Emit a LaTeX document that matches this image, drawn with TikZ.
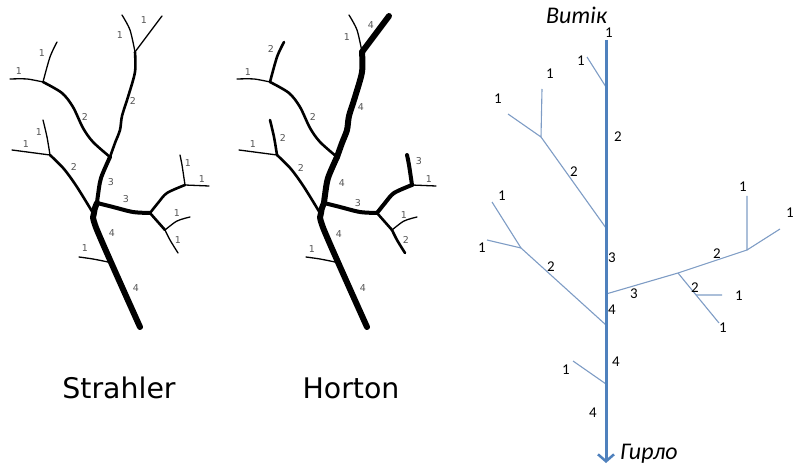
\documentclass[tikz,border=0pt]{standalone}
\usepackage{fontspec}
\setmainfont{DejaVu Sans}
\newfontfamily\carlito{Carlito}
\usetikzlibrary{arrows.meta,calc}
\definecolor{mainblue}{RGB}{79,129,189}
\definecolor{branchblue}{RGB}{126,156,197}
\definecolor{labgrey}{RGB}{85,85,85}
\tikzset{
  o1/.style={draw=black,line width=1.3bp},
  o2/.style={draw=black,line width=2.6bp},
  o3/.style={draw=black,line width=4bp},
  o4/.style={draw=black,line width=6bp},
  seg/.style={line cap=round,line join=round},
  lab/.style={text=labgrey,font=\fontsize{9.5}{10}\selectfont,inner sep=0pt},
  caption/.style={font=\fontsize{28.5}{30}\selectfont,inner sep=0pt,anchor=base},
  rlab/.style={font=\carlito\fontsize{15}{15}\selectfont,inner sep=0pt},
  rtitle/.style={font=\carlito\itshape\fontsize{24}{24}\selectfont,inner sep=0pt,anchor=base west},
  brline/.style={draw=branchblue,line width=1.1bp},
  mainline/.style={draw=mainblue,line width=3bp},
}
\newcommand{\rivertree}{%
  \draw[seg,sA] plot[smooth] coordinates {(122,15) (130,30) (135,52)};
  \draw[seg,sB] (162,16) -- (135,52);
  \draw[seg,sC] plot[smooth] coordinates {(135,52) (135,72) (128,97) (122,116) (120,130) (115,143) (110,157)};
  \draw[seg,sD] plot[smooth] coordinates {(57,42) (50,57) (43,82)};
  \draw[seg,sE] plot[smooth] coordinates {(10,79) (27,79) (43,82)};
  \draw[seg,sF] plot[smooth] coordinates {(43,82) (62,93) (73,107) (83,128) (93,142) (110,157)};
  \draw[seg,sG] plot[smooth] coordinates {(43,120) (47,137) (50,155)};
  \draw[seg,sH] (12,150) -- (50,155);
  \draw[seg,sI] plot[smooth] coordinates {(50,155) (64,169) (77,187) (93,213)};
  \draw[seg,sJ] plot[smooth] coordinates {(110,157) (101,178) (98,195) (97,203)};
  \draw[seg,sK] plot[smooth] coordinates {(97,203) (113,207) (133,212) (150,213)};
  \draw[seg,sL] plot[smooth] coordinates {(150,213) (158,203) (167,193) (185,185)};
  \draw[seg,sM] plot[smooth] coordinates {(180,155) (182,165) (185,185)};
  \draw[seg,sN] (185,185) -- (209,186);
  \draw[seg,sO] (150,213) -- (165,230);
  \draw[seg,sP] plot[smooth] coordinates {(165,230) (177,221) (190,217)};
  \draw[seg,sQ] plot[smooth] coordinates {(165,230) (170,240) (178,253)};
  \draw[seg,sR] plot[smooth] coordinates {(97,203) (94,213) (97,230) (140,327)};
  \draw[seg,sS] plot[smooth] coordinates {(79,257) (93,259) (108,262)};
}
\begin{document}
\begin{tikzpicture}[x=1bp,y=-1bp]
\useasboundingbox (0,0) rectangle (793,465);

% ---------------- Strahler ----------------
\begin{scope}
\tikzset{sA/.style=o1,sB/.style=o1,sC/.style=o2,sD/.style=o1,sE/.style=o1,
  sF/.style=o2,sG/.style=o1,sH/.style=o1,sI/.style=o2,sJ/.style=o3,sK/.style=o3,
  sL/.style=o2,sM/.style=o1,sN/.style=o1,sO/.style=o2,sP/.style=o1,sQ/.style=o1,
  sR/.style=o4,sS/.style=o1}
\rivertree
\foreach \t/\px/\py [count=\k] in {1/144/20,1/120/35,1/42/53,1/19/71,2/133/101,2/85/117,
  1/39/132,1/26/144,2/74/167,3/111/182,1/188/163,1/202/179,3/126/199,1/177/213,
  1/178/240,4/112/233,1/85/248,4/136/288}
  \node[lab] (sl\k) at (\px,\py) {\t};
\end{scope}
\node[caption] (strahler) at (119,398) {Strahler};

% ---------------- Horton ----------------
\begin{scope}[xshift=227bp]
\tikzset{sA/.style=o1,sB/.style=o4,sC/.style=o4,sD/.style=o2,sE/.style=o1,
  sF/.style=o2,sG/.style=o2,sH/.style=o1,sI/.style=o2,sJ/.style=o4,sK/.style=o3,
  sL/.style=o3,sM/.style=o3,sN/.style=o1,sO/.style=o2,sP/.style=o1,sQ/.style=o2,
  sR/.style=o4,sS/.style=o1}
\rivertree
\end{scope}
\foreach \t/\px/\py [count=\k] in {1/347/37,4/371/25,2/271/49,1/248/72,2/313/117,4/361/107,
  1/253/144,2/283/138,2/301/168,4/342/183,3/419/161,1/429/179,3/358/203,1/404/215,
  2/406/240,4/339/234,1/312/249,4/363/288}
  \node[lab] (hl\k) at (\px,\py) {\t};
\node[caption] (horton) at (351,398) {Horton};

% ---------------- Right diagram ----------------
\coordinate (top) at (606,40);
\coordinate (bot) at (606,463);
\coordinate (m1) at (606,87);
\coordinate (m2) at (606,228);
\coordinate (m3) at (606,294);
\coordinate (m4) at (606,325);
\coordinate (m5) at (606,384);
\coordinate (a1) at (587,57);
\coordinate (l2j) at (541,137);
\coordinate (l2u) at (542,89);
\coordinate (l2l) at (508,114);
\coordinate (l3j) at (521,248);
\coordinate (l3u) at (492,202);
\coordinate (l3l) at (487,240);
\coordinate (r3j) at (678,273);
\coordinate (r2j) at (747,250);
\coordinate (r2u) at (747,196);
\coordinate (r2r) at (780,229);
\coordinate (rd) at (719,323);
\coordinate (rbs) at ($(r3j)!0.44!(rd)$);
\coordinate (rbe) at (722,295);
\coordinate (b1) at (573,361);

\draw[brline] (a1) -- (m1);
\draw[brline] (m2) -- (l2j) -- (l2u);
\draw[brline] (l2j) -- (l2l);
\draw[brline] (l3u) -- (l3j) -- (m4);
\draw[brline] (l3l) -- (l3j);
\draw[brline] (m3) -- (r3j) -- (r2j) -- (r2u);
\draw[brline] (r2j) -- (r2r);
\draw[brline] (r3j) -- (rd);
\draw[brline] (rbs) -- (rbe);
\draw[brline] (b1) -- (m5);
\draw[mainline,-{Straight Barb[length=7bp,width=16bp,line width=2.5bp]}] (top) -- (bot);

\foreach \t/\px/\py [count=\k] in {1/609/33,1/581/61,1/550/74,1/498/99,2/618/137,2/574/172,
  1/502/196,1/482/248,3/612/258,2/551/267,4/612/310,3/634/294,2/717/254,1/743/187,
  1/790/213,2/695/288,1/739/296,1/723/328,1/566/370,4/616/362,4/593/413}
  \node[rlab] (rl\k) at (\px,\py) {\t};
\node[rtitle] (vytik) at (546,24) {Витік};
\node[rtitle] (hyrlo) at (620,459) {Гирло};
\end{tikzpicture}
\end{document}
